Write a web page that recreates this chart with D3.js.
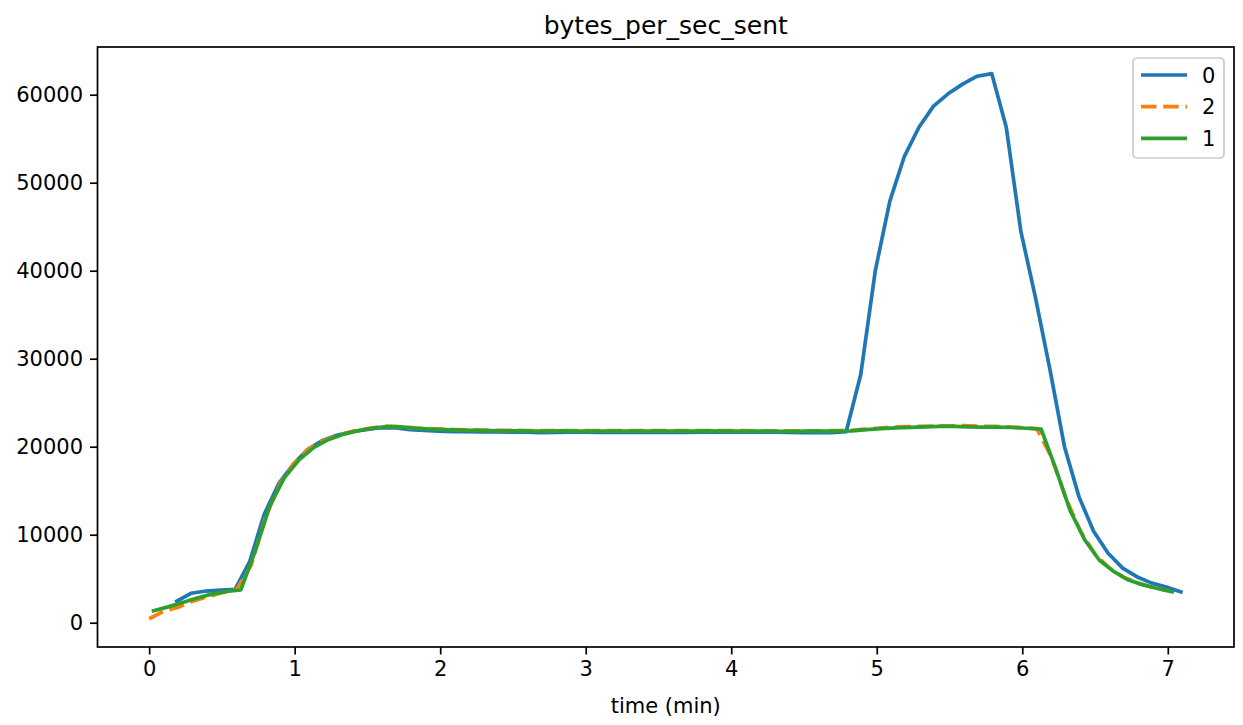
<!DOCTYPE html>
<html>
<head>
<meta charset="utf-8">
<script src="https://cdn.jsdelivr.net/npm/d3@7"></script>
<style>
  html, body { margin: 0; padding: 0; background: #ffffff; }
  text { font-family: "DejaVu Sans", sans-serif; fill: #000; }
</style>
</head>
<body>
<svg id="chart" width="1243" height="725"></svg>
<script>
// ---- data ----
const chartTitle = "bytes_per_sec_sent";
const xLabel = "time (min)";
const xTicks = [0, 1, 2, 3, 4, 5, 6, 7];
const yTicks = [0, 10000, 20000, 30000, 40000, 50000, 60000];
const seriesNames = ["0", "2", "1"];
const seriesColors = ["#1f77b4", "#ff7f0e", "#2ca02c"];

const time0 = [0.19,0.29,0.39,0.49,0.59,0.69,0.79,0.89,0.99,1.09,1.19,1.29,1.39,1.49,1.59,1.69,1.79,1.89,1.99,2.09,
  2.19,2.29,2.39,2.49,2.59,2.69,2.79,2.89,2.99,3.09,3.19,3.29,3.39,3.49,3.59,3.69,3.79,3.89,3.99,4.09,
  4.19,4.29,4.39,4.49,4.59,4.69,4.79,4.89,4.99,5.09,5.19,5.29,5.39,5.49,5.59,5.69,5.79,5.89,5.99,6.09,
  6.19,6.29,6.39,6.49,6.59,6.69,6.79,6.89,6.99,7.09];
const bytes0 = [2450,3350,3600,3700,3800,6900,12300,15800,18000,19700,20700,21300,21700,21950,22150,22150,21950,21850,21780,21720,
  21700,21680,21670,21660,21640,21600,21620,21640,21640,21630,21630,21620,21620,21620,21630,21630,21640,21640,21650,21650,
  21650,21640,21620,21600,21600,21600,21700,28200,40000,47900,53000,56300,58700,60100,61200,62100,62400,56300,44500,37000,
  28800,20000,14300,10400,7900,6200,5200,4500,4050,3500];

const time2 = [0.0,0.1,0.2,0.3,0.4,0.5,0.6,0.7,0.8,0.9,1.0,1.1,1.2,1.3,1.4,1.5,1.6,1.7,1.8,1.9,
  2.0,2.1,2.2,2.3,2.4,2.5,2.6,2.7,2.8,2.9,3.0,3.1,3.2,3.3,3.4,3.5,3.6,3.7,3.8,3.9,
  4.0,4.1,4.2,4.3,4.4,4.5,4.6,4.7,4.8,4.9,5.0,5.1,5.2,5.3,5.4,5.5,5.6,5.7,5.8,5.9,
  6.0,6.1,6.2,6.3,6.4,6.5,6.6,6.7,6.8,6.9,7.0];
const bytes2 = [450,1300,1750,2450,2950,3400,3750,6500,12000,15800,18200,19800,20700,21300,21750,22050,22300,22280,22160,22060,
  22000,21950,21910,21880,21860,21850,21840,21830,21840,21840,21830,21830,21820,21820,21830,21830,21840,21840,21840,21830,
  21830,21820,21810,21800,21800,21810,21810,21820,21840,21960,22100,22230,22280,22320,22350,22370,22400,22330,22300,22260,
  22170,22050,18850,14140,10390,7790,6190,5140,4470,4010,3630];

const time1 = [0.03,0.13,0.23,0.33,0.43,0.53,0.63,0.73,0.83,0.93,1.03,1.13,1.23,1.33,1.43,1.53,1.63,1.73,1.83,1.93,
  2.03,2.13,2.23,2.33,2.43,2.53,2.63,2.73,2.83,2.93,3.03,3.13,3.23,3.33,3.43,3.53,3.63,3.73,3.83,3.93,
  4.03,4.13,4.23,4.33,4.43,4.53,4.63,4.73,4.83,4.93,5.03,5.13,5.23,5.33,5.43,5.53,5.63,5.73,5.83,5.93,
  6.03,6.13,6.23,6.33,6.43,6.53,6.63,6.73,6.83,6.93,7.03];
const bytes1 = [1360,1800,2300,2800,3250,3550,3720,8200,13300,16500,18500,19900,20800,21400,21800,22100,22300,22250,22100,22000,
  21950,21900,21850,21820,21800,21790,21780,21780,21790,21780,21770,21770,21760,21760,21770,21770,21780,21780,21790,21780,
  21780,21770,21760,21750,21750,21760,21760,21770,21800,21950,22050,22150,22200,22250,22300,22320,22250,22220,22220,22180,
  22100,22000,17500,12700,9400,7100,5800,4850,4300,3880,3520];

// ---- layout ----
const svg = d3.select("#chart");
const L = 97.5, R = 1234, T = 47, B = 647;
const x = d3.scaleLinear().domain([-0.355, 7.455]).range([L, R]);
const y = d3.scaleLinear().domain([-2760, 65420]).range([B, T]);

const series = [
  {name: seriesNames[0], color: seriesColors[0], t: time0, v: bytes0, dash: null},
  {name: seriesNames[1], color: seriesColors[1], t: time2, v: bytes2, dash: "15.5,6.7"},
  {name: seriesNames[2], color: seriesColors[2], t: time1, v: bytes1, dash: null}
];

svg.append("defs").append("clipPath").attr("id", "plotclip")
  .append("rect").attr("x", L).attr("y", T).attr("width", R - L).attr("height", B - T);

const line = d3.line().x(d => x(d[0])).y(d => y(d[1]));
const lines = svg.append("g").attr("clip-path", "url(#plotclip)");
series.forEach(s => {
  lines.append("path")
    .datum(s.t.map((t, i) => [t, s.v[i]]))
    .attr("d", line)
    .attr("fill", "none")
    .attr("stroke", s.color)
    .attr("stroke-width", 3.7)
    .attr("stroke-linejoin", "round")
    .attr("stroke-linecap", s.dash ? "butt" : "square")
    .attr("stroke-dasharray", s.dash);
});

// axes
const xAxis = d3.axisBottom(x).tickValues(xTicks).tickFormat(d3.format("d")).tickSize(7.5).tickPadding(7);
const yAxis = d3.axisLeft(y).tickValues(yTicks).tickFormat(d => String(d)).tickSize(7.5).tickPadding(7);
const gx = svg.append("g").attr("transform", `translate(0,${B})`).call(xAxis);
const gy = svg.append("g").attr("transform", `translate(${L},0)`).call(yAxis);
[gx, gy].forEach(g => {
  g.select(".domain").remove();
  g.selectAll(".tick line").attr("stroke", "#000").attr("stroke-width", 1.7);
  g.selectAll(".tick text").attr("font-size", 21).attr("font-family", "DejaVu Sans").attr("fill", "#000");
});

// frame
svg.append("rect").attr("x", L).attr("y", T).attr("width", R - L).attr("height", B - T)
  .attr("fill", "none").attr("stroke", "#000").attr("stroke-width", 1.7);

// title & label
svg.append("text").attr("x", (L + R) / 2).attr("y", 34).attr("text-anchor", "middle")
  .attr("font-size", 25).text(chartTitle);
svg.append("text").attr("x", (L + R) / 2).attr("y", 713).attr("text-anchor", "middle")
  .attr("font-size", 21).text(xLabel);

// legend
const lg = svg.append("g");
lg.append("rect").attr("x", 1133).attr("y", 58).attr("width", 91).attr("height", 100)
  .attr("rx", 4).attr("fill", "#fff").attr("fill-opacity", 0.8)
  .attr("stroke", "#cccccc").attr("stroke-width", 1.7);
series.forEach((s, i) => {
  const yy = 75 + i * 31.7;
  lg.append("line").attr("x1", 1141).attr("x2", 1187).attr("y1", yy).attr("y2", yy)
    .attr("stroke", s.color).attr("stroke-width", 3.7).attr("stroke-dasharray", s.dash);
  lg.append("text").attr("x", 1202).attr("y", yy).attr("dy", "0.36em")
    .attr("font-size", 21).text(s.name);
});
</script>
</body>
</html>
